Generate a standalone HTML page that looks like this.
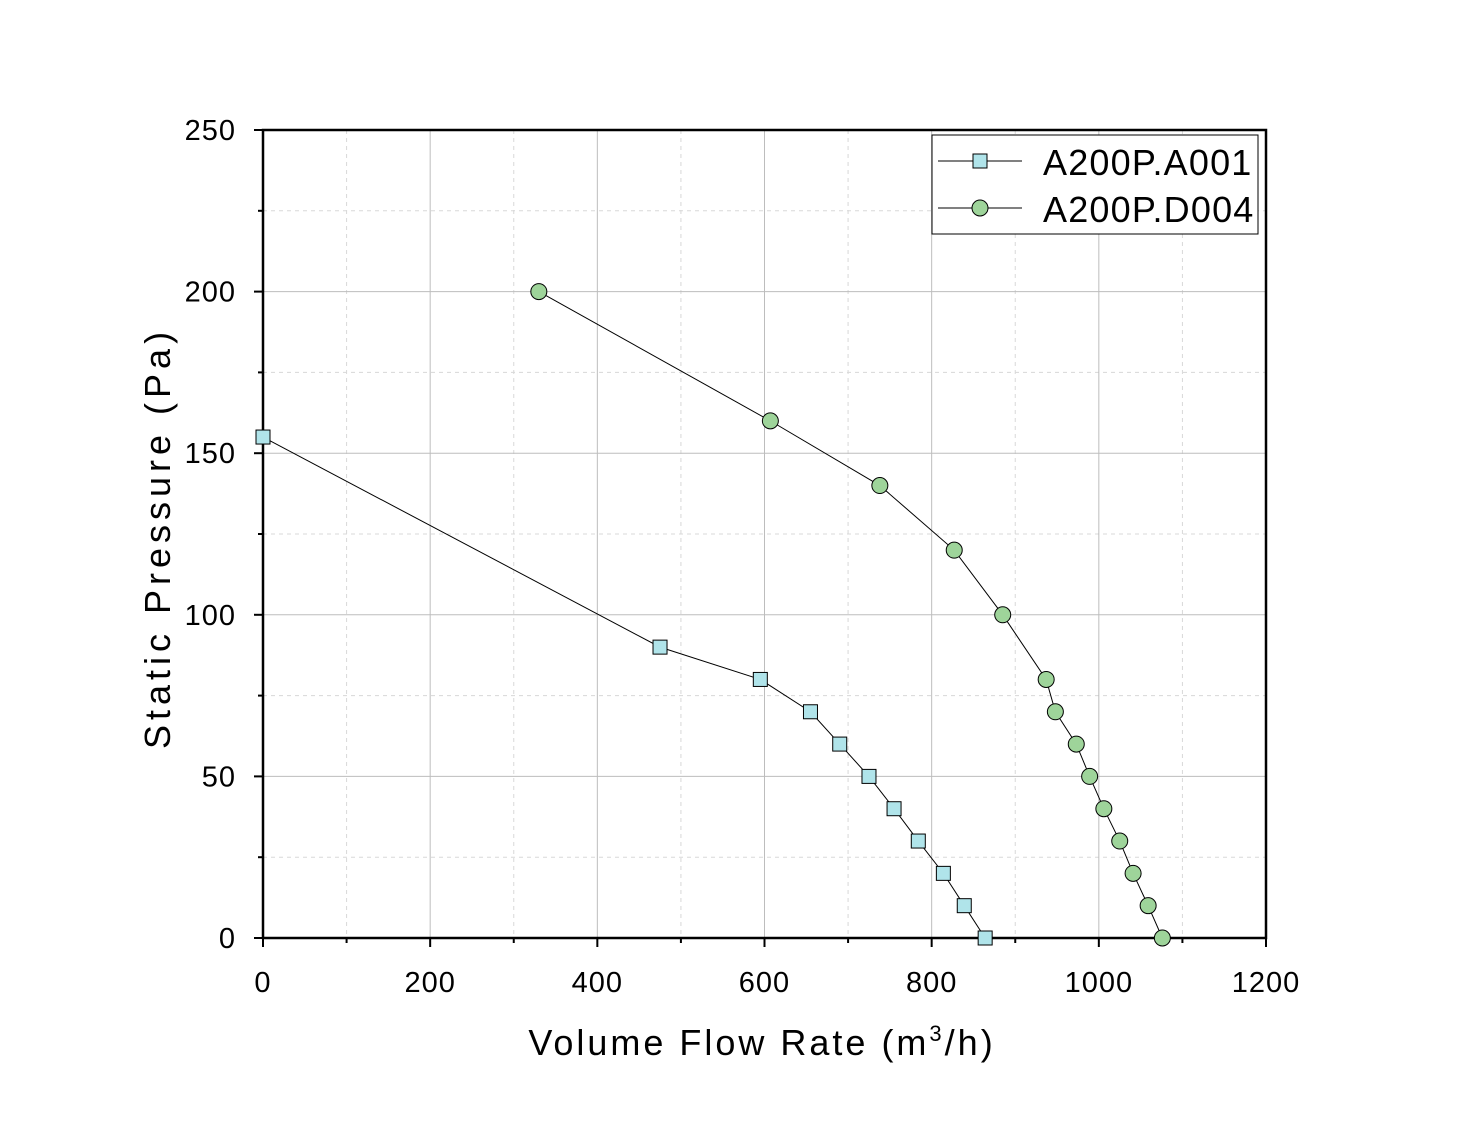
<!DOCTYPE html>
<html><head><meta charset="utf-8">
<style>
html,body{margin:0;padding:0;background:#fff;}
svg{display:block;}
text{font-family:"Liberation Sans","WenQuanYi Zen Hei",sans-serif;fill:#000;}
</style></head>
<body>
<svg id="chart" width="1470" height="1126" viewBox="0 0 1470 1126" xmlns="http://www.w3.org/2000/svg">
<g id="grid"></g>
<g id="axes"></g>
<g id="series"></g>
<text x="762" y="1055" text-anchor="middle" font-size="36" letter-spacing="3">Volume Flow Rate (m<tspan dy="-14" font-size="22">3</tspan><tspan dy="14">/h)</tspan></text>
<text transform="translate(170,538) rotate(-90)" text-anchor="middle" font-size="36" letter-spacing="5">Static Pressure (Pa)</text>
<g>
<rect x="932" y="135" width="326" height="99" fill="#fff" stroke="#000" stroke-width="1"/>
<line x1="938" y1="161" x2="1022" y2="161" stroke="#000" stroke-width="1"/>
<rect x="973" y="154" width="14" height="14" fill="#b0e4ea" stroke="#000" stroke-width="1"/>
<text x="1043" y="175" font-size="36" letter-spacing="1.2">A200P.A001</text>
<line x1="938" y1="208" x2="1022" y2="208" stroke="#000" stroke-width="1"/>
<circle cx="980" cy="208" r="8" fill="#9ed49a" stroke="#000" stroke-width="1"/>
<text x="1043" y="222" font-size="36" letter-spacing="1.2">A200P.D004</text>
</g>
</svg>
<script>
const xTicks = [0,200,400,600,800,1000,1200];
const yTicks = [0,50,100,150,200,250];
const a001Flow = [0,475,595,655,690,725,755,784,814,839,864];
const a001Pressure = [155,90,80,70,60,50,40,30,20,10,0];
const d004Flow = [330,607,738,827,885,937,948,973,989,1006,1025,1041,1059,1076];
const d004Pressure = [200,160,140,120,100,80,70,60,50,40,30,20,10,0];

const X0=263,X1=1266,Y0=938,Y1=130;
const sx=v=>X0+(v/1200)*(X1-X0);
const sy=v=>Y0-(v/250)*(Y0-Y1);
const NS="http://www.w3.org/2000/svg";
function mk(parent,tag,attrs){const e=document.createElementNS(NS,tag);for(const k in attrs)e.setAttribute(k,attrs[k]);parent.appendChild(e);return e;}
const grid=document.getElementById('grid'),axes=document.getElementById('axes'),ser=document.getElementById('series');

for(let i=0;i<xTicks.length-1;i++){const v=(xTicks[i]+xTicks[i+1])/2;
 const l=mk(grid,'line',{x1:sx(v),x2:sx(v),y1:Y1,y2:Y0,stroke:'#d8d8d8','stroke-dasharray':'4,4','stroke-width':1});
 
 }
for(let i=0;i<yTicks.length-1;i++){const v=(yTicks[i]+yTicks[i+1])/2;
 const l=mk(grid,'line',{x1:X0,x2:X1,y1:sy(v),y2:sy(v),stroke:'#d8d8d8','stroke-dasharray':'4,4','stroke-width':1});
 
 }
xTicks.forEach(v=>{
 const l=mk(grid,'line',{x1:sx(v),x2:sx(v),y1:Y1,y2:Y0,stroke:'#bdbdbd','stroke-width':1});
 
 
 mk(axes,'line',{x1:sx(v),x2:sx(v),y1:Y0,y2:Y0+9,stroke:'#000','stroke-width':2});
 const t=mk(axes,'text',{x:sx(v),y:Y0+54,'text-anchor':'middle','font-size':29,'letter-spacing':1});
 t.textContent=v;
 
 
});
yTicks.forEach(v=>{
 const l=mk(grid,'line',{x1:X0,x2:X1,y1:sy(v),y2:sy(v),stroke:'#bdbdbd','stroke-width':1});
 
 
 mk(axes,'line',{x1:X0-9,x2:X0,y1:sy(v),y2:sy(v),stroke:'#000','stroke-width':2});
 const t=mk(axes,'text',{x:X0-27,y:sy(v)+10,'text-anchor':'end','font-size':29,'letter-spacing':1});
 t.textContent=v;
 
 
});
for(let i=0;i<xTicks.length-1;i++){const v=(xTicks[i]+xTicks[i+1])/2;mk(axes,'line',{x1:sx(v),x2:sx(v),y1:Y0,y2:Y0+5,stroke:'#000','stroke-width':2});}
for(let i=0;i<yTicks.length-1;i++){const v=(yTicks[i]+yTicks[i+1])/2;mk(axes,'line',{x1:X0-5,x2:X0,y1:sy(v),y2:sy(v),stroke:'#000','stroke-width':2});}
const frame=mk(axes,'rect',{x:X0,y:Y1,width:X1-X0,height:Y0-Y1,fill:'none',stroke:'#000','stroke-width':2.5});



function series(fx,fy,name,square,fill){
 const pts=fx.map((v,i)=>sx(v)+','+sy(fy[i])).join(' ');
 const pl=mk(ser,'polyline',{points:pts,fill:'none',stroke:'#000','stroke-width':1});
 
 
 fx.forEach((v,i)=>{
  let m;
  if(square) m=mk(ser,'rect',{x:sx(v)-7,y:sy(fy[i])-7,width:14,height:14,fill:fill,stroke:'#000','stroke-width':1});
  else m=mk(ser,'circle',{cx:sx(v),cy:sy(fy[i]),r:8,fill:fill,stroke:'#000','stroke-width':1});
  
  
 });
}
series(a001Flow,a001Pressure,'a001',true,'#b0e4ea');
series(d004Flow,d004Pressure,'d004',false,'#9ed49a');
</script>
</body></html>
